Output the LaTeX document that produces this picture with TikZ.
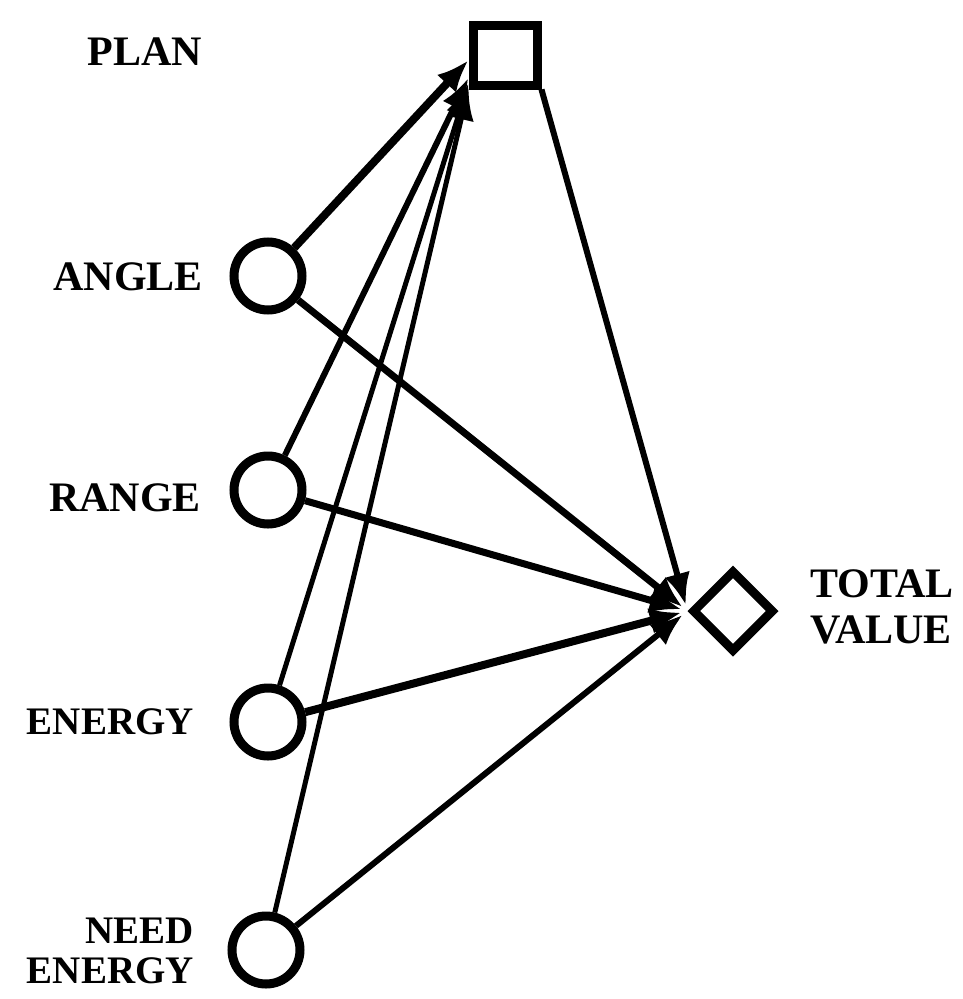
\documentclass[tikz,border=0pt]{standalone}
\usepackage{fontspec}
\setmainfont{Liberation Serif}
\usetikzlibrary{shapes.geometric,arrows.meta}
\begin{document}
\begin{tikzpicture}[x=1pt,y=-1pt,
  chance/.style={circle,draw,line width=9pt,minimum size=68pt,inner sep=0pt},
  decision/.style={rectangle,draw,line width=9pt,minimum width=64pt,minimum height=60pt,inner sep=0pt},
  valuenode/.style={diamond,draw,line width=9pt,minimum size=82pt,inner sep=0pt},
  lbl/.style={font=\fontsize{42}{46}\selectfont\bfseries,inner sep=0pt},
  lbls/.style={font=\fontsize{39}{40}\selectfont\bfseries,inner sep=0pt},
  arr/.style={-{Latex[length=32pt,width=26pt]},line width=6pt}]
\useasboundingbox (0,0) rectangle (963,999);
\node[decision] (plan) at (505,55) {};
\node[chance] (angle) at (268,276) {};
\node[chance] (range) at (268,490) {};
\node[chance] (energy) at (268,722) {};
\node[chance] (need) at (266,950) {};
\node[valuenode] (total) at (733,611) {};
\node[lbl,anchor=east] (lplan) at (202,52) {PLAN};
\node[lbl,anchor=east] (langle) at (203,277) {ANGLE};
\node[lbl,anchor=east] (lrange) at (201,498) {RANGE};
\node[lbls,anchor=east] (lenergy) at (194,722) {ENERGY};
\node[lbls,anchor=east,align=right] (lneed) at (194,951) {NEED\\ENERGY};
\node[lbl,anchor=west,align=left] (ltotal) at (810,607) {TOTAL\\VALUE};
\draw[arr,line width=8pt] (angle) -- (plan.188);
\draw[arr,line width=6pt] (range) -- (plan.212);
\draw[arr,line width=5pt] (energy) -- (plan.218);
\draw[arr,line width=5pt] (need) -- (plan.222);
\draw[arr,shorten >=6pt] (plan.south east) -- (total.west);
\draw[arr,line width=7pt,shorten >=6pt] (angle) -- (total.west);
\draw[arr,line width=7pt,shorten >=6pt] (range) -- (total.west);
\draw[arr,line width=8pt,shorten >=6pt] (energy) -- (total.west);
\draw[arr,line width=6pt,shorten >=6pt] (need) -- (total.west);
\end{tikzpicture}
\end{document}
